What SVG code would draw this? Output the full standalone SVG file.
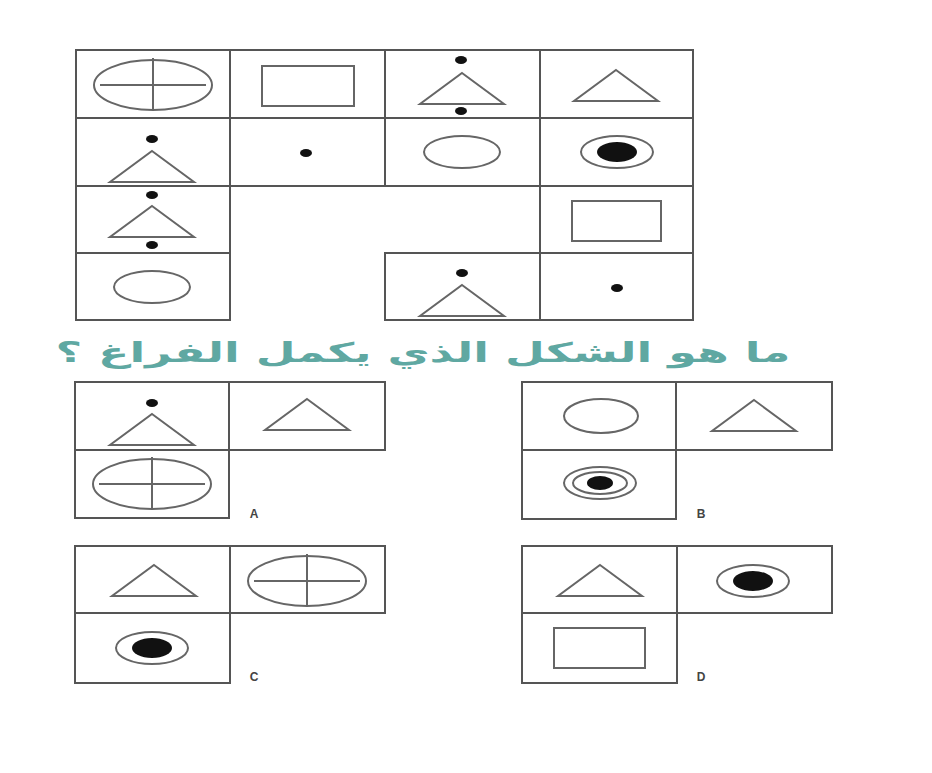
<svg xmlns="http://www.w3.org/2000/svg" width="932" height="773" viewBox="0 0 932 773">
<style>
.cell{fill:none;stroke:#555;stroke-width:2}
.sh{fill:none;stroke:#666;stroke-width:2}
.dot{fill:#111}
.lbl{font-family:"Liberation Sans",Arial,sans-serif;font-size:12px;font-weight:bold;fill:#444}
.q{font-family:"DejaVu Sans","Noto Sans",sans-serif;font-size:27px;font-weight:bold;fill:#5fa8a2}
</style>
<defs>
<g id="crossEll"><ellipse class="sh" cx="0" cy="0" rx="59" ry="25"/><line class="sh" x1="-53" y1="0" x2="53" y2="0"/><line class="sh" x1="0" y1="-27" x2="0" y2="25"/></g>
<g id="tri"><polygon class="sh" points="0,0 42,31 -42,31"/></g>
<g id="dotE"><ellipse class="dot" cx="0" cy="0" rx="6" ry="4"/></g>
<g id="target"><ellipse class="sh" cx="0" cy="0" rx="36" ry="16" stroke-width="2.5"/><ellipse class="dot" cx="0" cy="0" rx="20" ry="10"/></g>
</defs>
<rect width="932" height="773" fill="#fff"/>

<g id="grid">
<g id="r1c1"><rect class="cell" x="76" y="50" width="154" height="68"/><use href="#crossEll" x="153" y="85"/></g>
<g id="r1c2"><rect class="cell" x="230" y="50" width="155" height="68"/><rect class="sh" x="262" y="66" width="92" height="40"/></g>
<g id="r1c3"><rect class="cell" x="385" y="50" width="155" height="68"/><use href="#dotE" x="461" y="60"/><use href="#tri" x="462" y="73" transform="translate(0,0)"/><use href="#dotE" x="461" y="111"/></g>
<g id="r1c4"><rect class="cell" x="540" y="50" width="153" height="68"/><use href="#tri" x="616" y="70"/></g>

<g id="r2c1"><rect class="cell" x="76" y="118" width="154" height="68"/><use href="#dotE" x="152" y="139"/><use href="#tri" x="152" y="151"/></g>
<g id="r2c2"><rect class="cell" x="230" y="118" width="155" height="68"/><use href="#dotE" x="306" y="153"/></g>
<g id="r2c3"><rect class="cell" x="385" y="118" width="155" height="68"/><ellipse class="sh" cx="462" cy="152" rx="38" ry="16"/></g>
<g id="r2c4"><rect class="cell" x="540" y="118" width="153" height="68"/><use href="#target" x="617" y="152"/></g>

<g id="r3c1"><rect class="cell" x="76" y="186" width="154" height="67"/><use href="#dotE" x="152" y="195"/><use href="#tri" x="152" y="206"/><use href="#dotE" x="152" y="245"/></g>
<g id="r3c4"><rect class="cell" x="540" y="186" width="153" height="67"/><rect class="sh" x="572" y="201" width="89" height="40"/></g>

<g id="r4c1"><rect class="cell" x="76" y="253" width="154" height="67"/><ellipse class="sh" cx="152" cy="287" rx="38" ry="16"/></g>
<g id="r4c3"><rect class="cell" x="385" y="253" width="155" height="67"/><use href="#dotE" x="462" y="273"/><use href="#tri" x="462" y="285"/></g>
<g id="r4c4"><rect class="cell" x="540" y="253" width="153" height="67"/><use href="#dotE" x="617" y="288"/></g>
</g>

<g id="question"><text class="q" x="423" y="362" text-anchor="middle" direction="rtl" textLength="735" lengthAdjust="spacingAndGlyphs">ما هو الشكل الذي يكمل الفراغ ؟</text></g>

<g id="optionA">
<rect class="cell" x="75" y="382" width="154" height="68"/>
<rect class="cell" x="229" y="382" width="156" height="68"/>
<rect class="cell" x="75" y="450" width="154" height="68"/>
<use href="#dotE" x="152" y="403"/><use href="#tri" x="152" y="414"/>
<use href="#tri" x="307" y="399"/>
<use href="#crossEll" x="152" y="484"/>
<text class="lbl" x="254" y="518" text-anchor="middle">A</text>
</g>

<g id="optionB">
<rect class="cell" x="522" y="382" width="154" height="68"/>
<rect class="cell" x="676" y="382" width="156" height="68"/>
<rect class="cell" x="522" y="450" width="154" height="69"/>
<ellipse class="sh" cx="601" cy="416" rx="37" ry="17"/>
<use href="#tri" x="754" y="400"/>
<ellipse class="sh" cx="600" cy="483" rx="36" ry="16" stroke-width="2.5"/>
<ellipse class="sh" cx="600" cy="483" rx="27" ry="11" stroke-width="2"/>
<ellipse class="dot" cx="600" cy="483" rx="13" ry="7"/>
<text class="lbl" x="701" y="518" text-anchor="middle">B</text>
</g>

<g id="optionC">
<rect class="cell" x="75" y="546" width="155" height="67"/>
<rect class="cell" x="230" y="546" width="155" height="67"/>
<rect class="cell" x="75" y="613" width="155" height="70"/>
<use href="#tri" x="154" y="565"/>
<use href="#crossEll" x="307" y="581"/>
<use href="#target" x="152" y="648"/>
<text class="lbl" x="254" y="681" text-anchor="middle">C</text>
</g>

<g id="optionD">
<rect class="cell" x="522" y="546" width="155" height="67"/>
<rect class="cell" x="677" y="546" width="155" height="67"/>
<rect class="cell" x="522" y="613" width="155" height="70"/>
<use href="#tri" x="600" y="565"/>
<use href="#target" x="753" y="581"/>
<rect class="sh" x="554" y="628" width="91" height="40"/>
<text class="lbl" x="701" y="681" text-anchor="middle">D</text>
</g>
</svg>
